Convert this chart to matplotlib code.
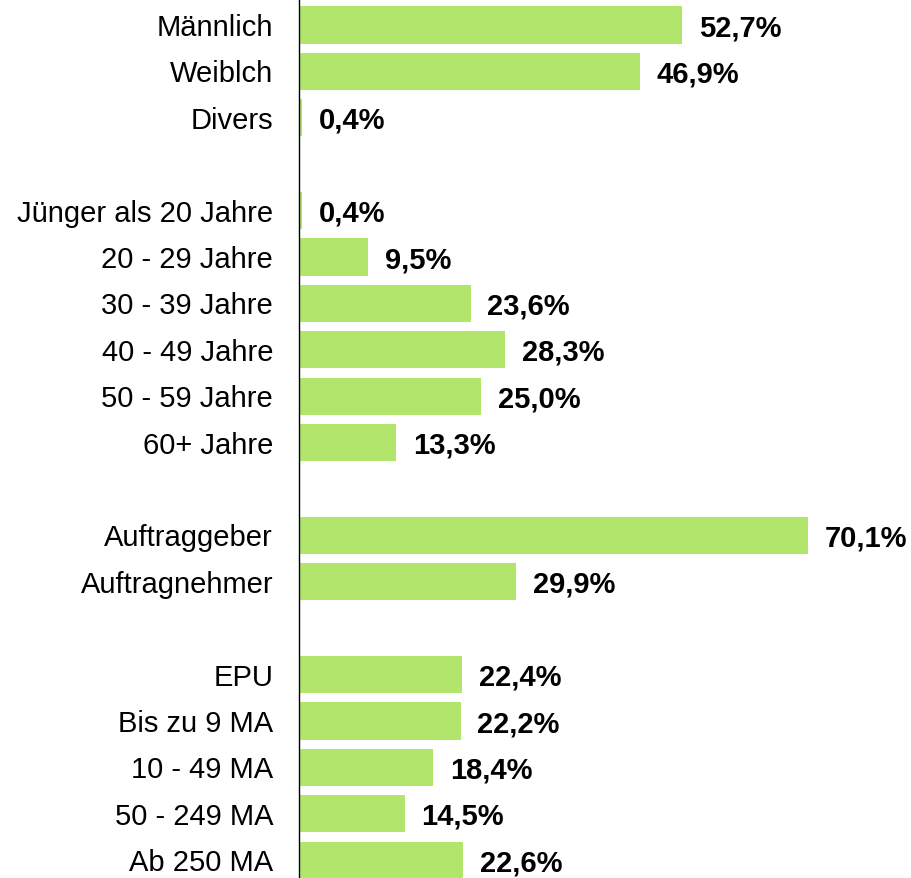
import matplotlib
matplotlib.use('Agg')
import matplotlib.pyplot as plt
import numpy as np

plt.rcParams['font.family'] = ['Liberation Sans', 'DejaVu Sans']

########################################################################

# None marks an empty gap row between groups
categories = [
    'Männlich', 'Weiblch', 'Divers',
    None,
    'Jünger als 20 Jahre', '20 - 29 Jahre', '30 - 39 Jahre',
    '40 - 49 Jahre', '50 - 59 Jahre', '60+ Jahre',
    None,
    'Auftraggeber', 'Auftragnehmer',
    None,
    'EPU', 'Bis zu 9 MA', '10 - 49 MA', '50 - 249 MA', 'Ab 250 MA',
]
values = [
    52.7, 46.9, 0.4,
    None,
    0.4, 9.5, 23.6, 28.3, 25.0, 13.3,
    None,
    70.1, 29.9,
    None,
    22.4, 22.2, 18.4, 14.5, 22.6,
]
value_labels = [
    '52,7%', '46,9%', '0,4%',
    None,
    '0,4%', '9,5%', '23,6%', '28,3%', '25,0%', '13,3%',
    None,
    '70,1%', '29,9%',
    None,
    '22,4%', '22,2%', '18,4%', '14,5%', '22,6%',
]

bar_color = '#b2e56b'

########################################################################

W, H = 912, 879
fig = plt.figure(figsize=(W / 100, H / 100), dpi=100)
ax_left = 299.5 / W
ax = fig.add_axes([ax_left, 0, 1 - ax_left, 1])

for i, (cat, v, lab) in enumerate(zip(categories, values, value_labels)):
    if cat is None:
        continue
    ax.barh(i, v, height=0.8, color=bar_color, linewidth=0)
    ax.annotate(lab, (v, i), xytext=(12, -1.5), textcoords='offset points',
                ha='left', va='center', fontsize=21, fontweight='bold')
    ax.annotate(cat, (0, i), xytext=(-19, -1.5), textcoords='offset points',
                ha='right', va='center', fontsize=21)

ax.set_xlim(0, (W - 300) / 7.25)
ax.set_ylim((H - 26) / 46.4, -26 / 46.4)

for s in ['top', 'right', 'bottom']:
    ax.spines[s].set_visible(False)
ax.spines['left'].set_linewidth(1.0)
ax.spines['left'].set_color('black')
ax.set_xticks([])
ax.set_yticks([])
for t in ax.texts:
    t.set_clip_on(False)

fig.savefig('out.png', dpi=100)
